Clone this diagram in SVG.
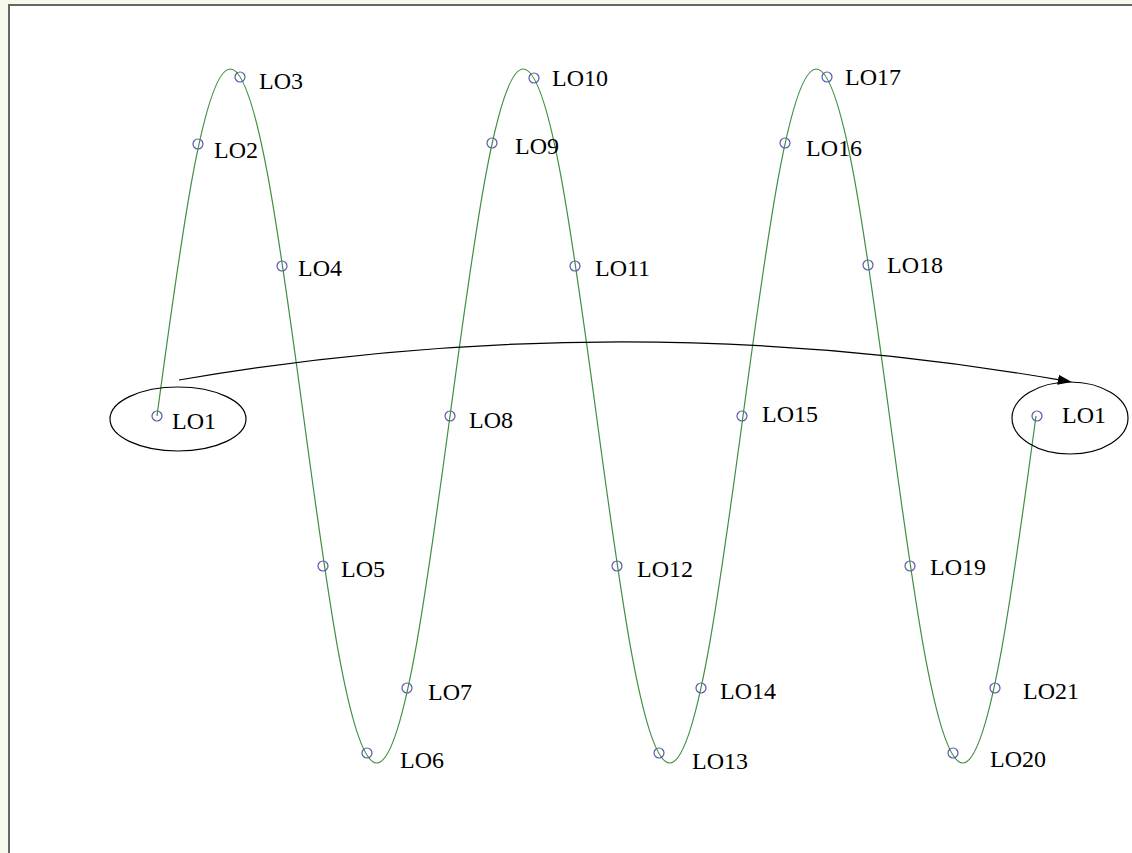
<svg xmlns="http://www.w3.org/2000/svg" width="1132" height="853" viewBox="0 0 1132 853">
  <style>
    .lbl { font-family: "Liberation Serif", "Times New Roman", serif; font-size: 24px; fill: #000; }
    .pt { fill: none; stroke: #5a5aa8; stroke-width: 1.2; }
    .ring { fill: none; stroke: #000; stroke-width: 1.2; }
    .wave { fill: none; stroke: #3f8f3f; stroke-width: 1.2; }
    .link { fill: none; stroke: #000; stroke-width: 1.2; }
  </style>
  <defs>
    <marker id="arrowhead" viewBox="0 0 14 10" refX="0" refY="5" markerWidth="14" markerHeight="10" markerUnits="userSpaceOnUse" orient="auto">
      <path d="M0,0 L14,5 L0,10 Z" fill="#000"/>
    </marker>
  </defs>

  <!-- page background and frame -->
  <rect x="0" y="0" width="1132" height="853" fill="#f8f8ec"/>
  <rect x="9" y="5" width="1140" height="860" fill="#fff" stroke="#666" stroke-width="2"/>

  <!-- connectors -->
  <g id="connectors">
    <path class="wave" d="M157,416
      C180.89,238.23 203.74,69 230.25,69
      C256.76,69 279.61,238.23 303.5,416
      C327.39,593.77 350.24,763 376.75,763
      C403.26,763 426.11,593.77 450,416
      C473.89,238.23 496.74,69 523.25,69
      C549.76,69 572.61,238.23 596.5,416
      C620.39,593.77 643.24,763 669.75,763
      C696.26,763 719.11,593.77 743,416
      C766.89,238.23 789.74,69 816.25,69
      C842.76,69 865.61,238.23 889.5,416
      C913.39,593.77 936.24,763 962.75,763
      C989.26,763 1012.11,593.77 1036,416"/>
    <path class="link" d="M179,380 Q622,304 1058,379.7" marker-end="url(#arrowhead)"/>
  </g>

  <!-- start node -->
  <g id="node-lo1-start">
    <ellipse class="ring" cx="178" cy="419" rx="68" ry="32"/>
    <circle class="pt" cx="157" cy="416" r="5"/>
    <text class="lbl" x="172" y="429">LO1</text>
  </g>

  <g id="node-lo2"><circle class="pt" cx="198" cy="144" r="5"/><text class="lbl" x="214" y="158">LO2</text></g>
  <g id="node-lo3"><circle class="pt" cx="240" cy="77" r="5"/><text class="lbl" x="259" y="89">LO3</text></g>
  <g id="node-lo4"><circle class="pt" cx="282" cy="266" r="5"/><text class="lbl" x="298" y="276">LO4</text></g>
  <g id="node-lo5"><circle class="pt" cx="323" cy="566" r="5"/><text class="lbl" x="341" y="577">LO5</text></g>
  <g id="node-lo6"><circle class="pt" cx="367" cy="753" r="5"/><text class="lbl" x="400" y="768">LO6</text></g>
  <g id="node-lo7"><circle class="pt" cx="407" cy="688" r="5"/><text class="lbl" x="428" y="700">LO7</text></g>
  <g id="node-lo8"><circle class="pt" cx="450" cy="416" r="5"/><text class="lbl" x="469" y="428">LO8</text></g>
  <g id="node-lo9"><circle class="pt" cx="492" cy="143" r="5"/><text class="lbl" x="515" y="154">LO9</text></g>
  <g id="node-lo10"><circle class="pt" cx="534" cy="78" r="5"/><text class="lbl" x="552" y="86">LO10</text></g>
  <g id="node-lo11"><circle class="pt" cx="575" cy="266" r="5"/><text class="lbl" x="595" y="276">LO11</text></g>
  <g id="node-lo12"><circle class="pt" cx="617" cy="566" r="5"/><text class="lbl" x="637" y="577">LO12</text></g>
  <g id="node-lo13"><circle class="pt" cx="659" cy="753" r="5"/><text class="lbl" x="692" y="769">LO13</text></g>
  <g id="node-lo14"><circle class="pt" cx="701" cy="688" r="5"/><text class="lbl" x="720" y="699">LO14</text></g>
  <g id="node-lo15"><circle class="pt" cx="742" cy="416" r="5"/><text class="lbl" x="762" y="422">LO15</text></g>
  <g id="node-lo16"><circle class="pt" cx="785" cy="143" r="5"/><text class="lbl" x="806" y="156">LO16</text></g>
  <g id="node-lo17"><circle class="pt" cx="827" cy="77" r="5"/><text class="lbl" x="845" y="85">LO17</text></g>
  <g id="node-lo18"><circle class="pt" cx="868" cy="265" r="5"/><text class="lbl" x="887" y="273">LO18</text></g>
  <g id="node-lo19"><circle class="pt" cx="910" cy="566" r="5"/><text class="lbl" x="930" y="575">LO19</text></g>
  <g id="node-lo20"><circle class="pt" cx="953" cy="753" r="5"/><text class="lbl" x="990" y="767">LO20</text></g>
  <g id="node-lo21"><circle class="pt" cx="995" cy="688" r="5"/><text class="lbl" x="1023" y="699">LO21</text></g>

  <!-- end node -->
  <g id="node-lo1-end">
    <ellipse class="ring" cx="1070" cy="418" rx="58" ry="36"/>
    <circle class="pt" cx="1037" cy="416" r="5"/>
    <text class="lbl" x="1062" y="423">LO1</text>
  </g>
</svg>
